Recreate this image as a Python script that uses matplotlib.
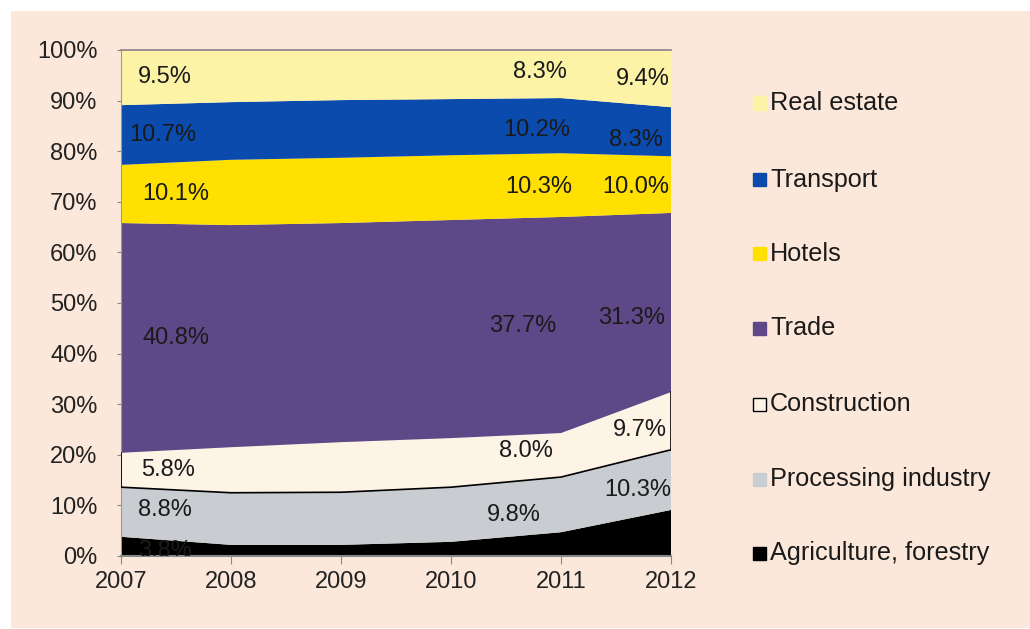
import matplotlib
matplotlib.use("Agg")
import matplotlib.pyplot as plt
from matplotlib.patches import Rectangle
import numpy as np

plt.rcParams['font.family'] = ['Liberation Sans', 'DejaVu Sans']

years = [2007, 2008, 2009, 2010, 2011, 2012]
categories = ["Agriculture, forestry", "Processing industry", "Construction",
              "Trade", "Hotels", "Transport", "Real estate"]
agriculture = [3.8, 2.2, 2.2, 2.8, 4.7, 9.1]
processing = [9.8, 10.3, 10.4, 10.8, 10.9, 11.9]
construction = [6.8, 9.0, 9.9, 9.7, 8.7, 11.4]
trade = [45.4, 43.9, 43.3, 43.1, 42.7, 35.4]
hotels = [11.5, 12.9, 12.9, 12.8, 12.6, 11.2]
transport = [11.8, 11.4, 11.4, 11.1, 10.9, 9.7]
real_estate = [10.9, 10.3, 9.9, 9.7, 9.5, 11.3]

colors = ["#000000", "#C9CCD0", "#FDF4E6", "#5E4888", "#FFE000", "#0B4BAD", "#FDF3A6"]

# data labels: (text, x year, y value)
label_texts = ["9.5%", "8.3%", "9.4%",
               "10.7%", "10.2%", "8.3%",
               "10.1%", "10.3%", "10.0%",
               "40.8%", "37.7%", "31.3%",
               "5.8%", "8.0%", "9.7%",
               "8.8%", "9.8%", "10.3%",
               "3.8%"]
label_x = [2007.40, 2010.81, 2011.74,
           2007.38, 2010.78, 2011.68,
           2007.50, 2010.80, 2011.68,
           2007.50, 2010.65, 2011.64,
           2007.43, 2010.68, 2011.72,
           2007.40, 2010.57, 2011.70,
           2007.40]
label_y = [94.7, 95.6, 94.3,
           83.2, 84.2, 82.2,
           71.5, 72.9, 72.9,
           43.1, 45.5, 47.0,
           17.0, 20.8, 24.9,
           9.1, 8.1, 13.0,
           1.0]

series = [agriculture, processing, construction, trade, hotels, transport, real_estate]

W, H = 1030, 629
fig = plt.figure(figsize=(W / 100, H / 100), dpi=100, facecolor="white")
fig.patches.append(Rectangle((11 / W, 1 - 628 / H), 1 - 11 / W, (628 - 11) / H,
                             transform=fig.transFigure, facecolor="#FCE8DA",
                             edgecolor="none", zorder=-10))

ax = fig.add_axes([121 / W, 1 - 556 / H, 550 / W, 506 / H])
ax.set_facecolor("none")
ax.set_zorder(2)

x = np.array(years, dtype=float)
base = np.zeros(len(years))
for i, (vals, col) in enumerate(zip(series, colors)):
    v = np.array(vals, dtype=float)
    top = base + v
    ax.fill_between(x, base, top, facecolor=col, edgecolor="none", zorder=2)
    if categories[i] == "Construction":
        ax.plot(x, base, color="black", lw=1.2, zorder=3)
        ax.plot([x[0], x[0]], [base[0], top[0]], color="black", lw=1.2, zorder=3)
        ax.plot([x[-1], x[-1]], [base[-1], top[-1]], color="black", lw=1.2, zorder=3)
    base = top

for t, lx, ly in zip(label_texts, label_x, label_y):
    ax.text(lx, ly, t, ha="center", va="center", fontsize=17,
            color="#1a1a1a", zorder=5, clip_on=True)

ax.set_xlim(2007, 2012)
ax.set_ylim(0, 100)
ax.set_xticks(years)
ax.set_xticklabels([str(y) for y in years])
ax.set_yticks(np.arange(0, 101, 10))
ax.set_yticklabels([f"{v}%" for v in range(0, 101, 10)])
ax.tick_params(axis="both", labelsize=17, colors="#222222")
ax.tick_params(axis="y", length=3, pad=14, color="#888888")
ax.tick_params(axis="x", length=6, pad=5, color="#888888")
ax.spines["right"].set_visible(False)
ax.spines["top"].set_color("#8a7f8a")
ax.spines["top"].set_linewidth(1.2)
ax.spines["left"].set_color("#999999")
ax.spines["bottom"].set_color("#888888")
ax.spines["bottom"].set_linewidth(1.5)

# legend (manual, top to bottom: reverse order)
leg_y = [103, 180, 254, 328, 404, 479, 553]
for cat, col, py in zip(categories[::-1], colors[::-1], leg_y):
    fy = 1 - py / H
    ec = "black" if cat == "Construction" else col
    fig.patches.append(Rectangle((753 / W, fy - 6.5 / H), 13 / W, 13 / H,
                                 transform=fig.transFigure, facecolor=col,
                                 edgecolor=ec, lw=1.0, zorder=3))
    fig.text(770 / W, fy, cat, ha="left", va="center", fontsize=18.2,
             color="#1a1a1a")

fig.savefig("out.png", dpi=100, facecolor=fig.get_facecolor())
